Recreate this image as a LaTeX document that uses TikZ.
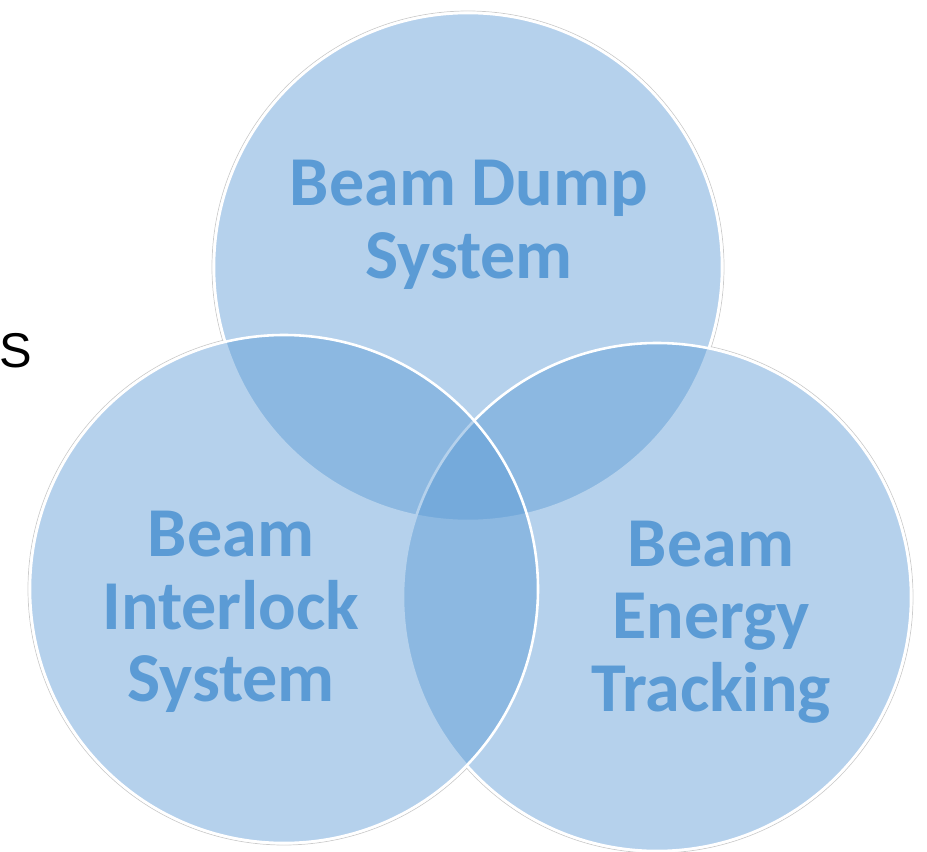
\documentclass[tikz,border=0pt]{standalone}
\usepackage{fontspec}
\newfontfamily\vennfont{Carlito}
\newfontfamily\slidefont{Liberation Sans}
\definecolor{vennblue}{RGB}{91,155,213}
\tikzset{
  venn fill/.style={fill=vennblue, fill opacity=0.45},
  venn border/.style={draw=white, line width=2.2pt},
  venn shadow/.style={draw=black!20, line width=0.6pt},
  venn label/.style={text=vennblue, font=\vennfont\bfseries\fontsize{59.8}{62}\selectfont, align=center, inner sep=0pt}
}
\begin{document}
\begin{tikzpicture}[x=0.03cm, y=-0.03cm]
  \useasboundingbox (0,0) rectangle (927,852);

  % centres des cercles
  \coordinate (dump) at (468,267);
  \coordinate (energy) at (657,597);
  \coordinate (interlock) at (284,589);

  % ombre grise et fond blanc
  \foreach \c in {dump, energy, interlock}
    \draw[venn shadow] (\c) circle (256);
  \fill[white] (dump) circle (255) (energy) circle (255) (interlock) circle (255);

  % cercles transparents
  \foreach \c in {dump, energy, interlock}
    \draw[venn fill, venn border] (\c) circle (254);

  % textes
  \node[venn label] (dumplabel) at (469,225) {Beam Dump\\System};
  \node[venn label] (interlocklabel) at (231,612) {Beam\\Interlock\\System};
  \node[venn label] (energylabel) at (711,622) {Beam\\Energy\\Tracking};

  % lettre au bord gauche
  \node[font=\slidefont\fontsize{41.7}{50}\selectfont, anchor=base east, inner sep=0pt] (edgeletter) at (32,367) {S};
\end{tikzpicture}
\end{document}
